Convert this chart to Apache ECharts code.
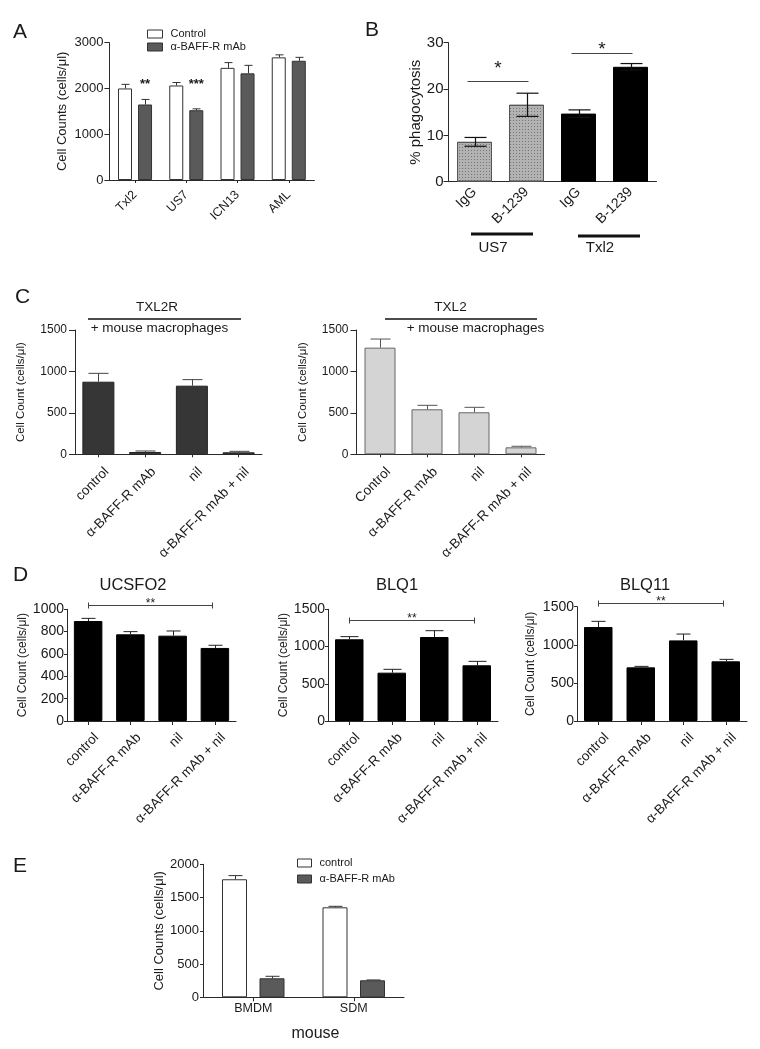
<!DOCTYPE html>
<html>
<head>
<meta charset="utf-8">
<script src="https://cdn.jsdelivr.net/npm/echarts@6.0.0/dist/echarts.min.js"></script>
<style>
html,body{margin:0;padding:0;background:#fff;}
#chart{width:760px;height:1049px;}
</style>
</head>
<body>
<div id="chart"></div>
<script>
// ---------------- DATA ----------------
// Panel A
const catA = ['Txl2', 'US7', 'ICN13', 'AML'];
const ctrlA = [2000, 2065, 2450, 2680];
const ctrlAErr = [90, 65, 115, 55];
const mabA = [1650, 1525, 2330, 2605];
const mabAErr = [110, 30, 175, 75];
const starsA = [{cat: 0, y: 2163, text: '**'}, {cat: 1, y: 2163, text: '***'}];
const yMaxA = 3000, yStepA = 1000;

// Panel B
const catB = ['IgG', 'B-1239', 'IgG', 'B-1239'];
const groupB = ['US7', 'US7', 'Txl2', 'Txl2'];
const valB = [8.6, 16.6, 14.7, 24.8];
const errB = [0.95, 2.5, 0.8, 0.7];
const sigB = [{from: 0, to: 1, y: 21.7, starY: 25.4}, {from: 2, to: 3, y: 27.8, starY: 29.5}];
const yMaxB = 30, yStepB = 10;

// Panel C
const catC1 = ['control', 'α-BAFF-R mAb', 'nil', 'α-BAFF-R mAb + nil'];
const valC1 = [876, 28, 828, 24];
const errC1 = [101, 12, 73, 12];
const catC2 = ['Control', 'α-BAFF-R mAb', 'nil', 'α-BAFF-R mAb + nil'];
const valC2 = [1287, 543, 507, 84];
const errC2 = [104, 48, 60, 13];
const yMaxC = 1500, yStepC = 500;

// Panel D
const catD = ['control', 'α-BAFF-R mAb', 'nil', 'α-BAFF-R mAb + nil'];
const valD1 = [895, 776, 764, 654];
const errD1 = [24, 24, 42, 24];
const valD2 = [1097, 649, 1128, 748];
const errD2 = [36, 45, 85, 53];
const valD3 = [1233, 704, 1058, 783];
const errD3 = [75, 13, 83, 26];
const sigD1 = {from: 0, to: 3, y: 1036};
const sigD2 = {from: 0, to: 3, y: 1353};
const sigD3 = {from: 0, to: 3, y: 1553};
const yMaxD1 = 1000, yStepD1 = 200;
const yMaxD23 = 1500, yStepD23 = 500;

// Panel E
const catE = ['BMDM', 'SDM'];
const ctrlE = [1775, 1353];
const ctrlEErr = [55, 15];
const mabE = [286, 256];
const mabEErr = [30, 5];
const yMaxE = 2000, yStepE = 500;

// ---------------- STYLE HELPERS ----------------
const FONT = '"Liberation Sans", Arial, Helvetica, sans-serif';
const TXT = '#1a1a1a';
const AX = '#2a2a2a';

const grids = [
  {left: 109.4, top: 42.7, width: 205, height: 137.3},   // A
  {left: 448.5, top: 42.7, width: 208, height: 139},     // B
  {left: 75, top: 330, width: 187, height: 124.3},       // C1
  {left: 356.5, top: 330, width: 188, height: 124.3},    // C2
  {left: 67, top: 609.3, width: 169, height: 111.7},     // D1
  {left: 328, top: 609.3, width: 170, height: 111.7},    // D2
  {left: 577, top: 606.7, width: 170, height: 114.3},    // D3
  {left: 203, top: 864.3, width: 201, height: 133}       // E
];

function xAx(gi, cats, o) {
  const lab = {interval: 0, rotate: o.rotate || 0, fontSize: o.fs, fontFamily: FONT, color: TXT, margin: o.margin};
  if (o.lh) { lab.verticalAlign = 'top'; lab.lineHeight = o.lh; }
  return {
    type: 'category', gridIndex: gi, data: cats,
    axisLine: {lineStyle: {color: AX, width: 1}},
    axisTick: {show: o.tick > 0, alignWithLabel: true, length: o.tick || 4, lineStyle: {color: AX}},
    axisLabel: lab
  };
}
function yAx(gi, max, interval, name, o) {
  return {
    type: 'value', gridIndex: gi, min: 0, max: max, interval: interval,
    name: name, nameLocation: 'middle', nameGap: o.gap,
    nameTextStyle: {fontSize: o.nfs, fontFamily: FONT, color: TXT},
    splitLine: {show: false},
    axisLine: {show: true, lineStyle: {color: AX, width: 1}},
    axisTick: {show: true, length: o.tick, lineStyle: {color: AX}},
    axisLabel: {fontSize: o.fs, fontFamily: FONT, color: TXT, margin: o.margin,
      formatter: function (v) { return String(v); }}
  };
}
function barS(gi, name, vals, style, width, gap) {
  const s = {
    type: 'bar', name: name, xAxisIndex: gi, yAxisIndex: gi, data: vals,
    barWidth: width, itemStyle: style, silent: true, z: 2
  };
  if (gap !== undefined) s.barGap = gap;
  return s;
}
function errS(gi, vals, errs, dx, capHalf, color, lw, both) {
  return {
    type: 'custom', xAxisIndex: gi, yAxisIndex: gi, z: 5, silent: true,
    data: vals.map((v, i) => [i, v, errs[i]]),
    encode: {x: 0, y: 1},
    renderItem: function (params, api) {
      const i = api.value(0), v = api.value(1), e = api.value(2);
      const p = api.coord([i, v]);
      const t = api.coord([i, v + e]);
      const b = api.coord([i, v - e]);
      const x = Math.round(p[0] + dx) + 0.5;
      const st = {stroke: color, lineWidth: lw};
      const ch = [
        {type: 'line', shape: {x1: x, y1: both ? b[1] : p[1], x2: x, y2: t[1]}, style: st},
        {type: 'line', shape: {x1: x - capHalf, y1: t[1], x2: x + capHalf, y2: t[1]}, style: st}
      ];
      if (both) ch.push({type: 'line', shape: {x1: x - capHalf, y1: b[1], x2: x + capHalf, y2: b[1]}, style: st});
      return {type: 'group', children: ch};
    }
  };
}
function starText(x, yCenter, text, fs, bold) {
  return {type: 'text', x: x, y: yCenter + 0.23 * fs,
    style: {text: text, fontSize: fs, fontFamily: FONT, fontWeight: bold ? 'bold' : 'normal',
      fill: TXT, align: 'center', verticalAlign: 'middle'}};
}
// stars over bars (panel A)
function starsS(gi, stars, dx, fs) {
  return {
    type: 'custom', xAxisIndex: gi, yAxisIndex: gi, z: 6, silent: true,
    data: stars.map(s => [s.cat, s.y]),
    encode: {x: 0, y: 1},
    renderItem: function (params, api) {
      const p = api.coord([api.value(0), api.value(1)]);
      return starText(p[0] + dx, p[1], stars[params.dataIndex].text, fs, true);
    }
  };
}
// significance bracket for panel B (plain line + star)
function sigBS(gi, sigs) {
  return {
    type: 'custom', xAxisIndex: gi, yAxisIndex: gi, z: 6, silent: true, clip: false,
    data: sigs.map(s => [s.from, s.y]),
    encode: {x: 0, y: 1},
    renderItem: function (params, api) {
      const s = sigs[params.dataIndex];
      const a = api.coord([s.from, s.y]);
      const b = api.coord([s.to, s.y]);
      const st = api.coord([s.to, s.starY]);
      const y = Math.round(a[1]) + 0.5;
      return {type: 'group', children: [
        {type: 'line', shape: {x1: a[0] - 7, y1: y, x2: b[0] + 2, y2: y}, style: {stroke: '#444', lineWidth: 1}},
        starText((a[0] - 7 + b[0] + 2) / 2, st[1], '*', 19, false)
      ]};
    }
  };
}
// significance bracket for panel D (|----| with ** above)
function sigDS(gi, sig) {
  return {
    type: 'custom', xAxisIndex: gi, yAxisIndex: gi, z: 6, silent: true, clip: false,
    data: [[sig.from, sig.y]],
    encode: {x: 0, y: 1},
    renderItem: function (params, api) {
      const a = api.coord([sig.from, sig.y]);
      const b = api.coord([sig.to, sig.y]);
      const y = Math.round(a[1]) + 0.5;
      const x1 = Math.round(a[0]) + 0.5, x2 = Math.round(b[0]) - 2.5;
      const st = {stroke: '#444', lineWidth: 1};
      return {type: 'group', children: [
        {type: 'line', shape: {x1: x1, y1: y, x2: x2, y2: y}, style: st},
        {type: 'line', shape: {x1: x1, y1: y - 3, x2: x1, y2: y + 3}, style: st},
        {type: 'line', shape: {x1: x2, y1: y - 3, x2: x2, y2: y + 3}, style: st},
        starText((x1 + x2) / 2, y - 5, '**', 12, false)
      ]};
    }
  };
}

// graphic helpers
function gtxt(text, x, y, fs, align) {
  return {type: 'text', x: x, y: y, silent: true,
    style: {text: text, fontSize: fs, fontFamily: FONT, fill: TXT, align: align || 'center', verticalAlign: 'middle'}};
}
function gline(x1, y1, x2, y2, w) {
  return {type: 'line', silent: true, shape: {x1: x1, y1: y1, x2: x2, y2: y2}, style: {stroke: '#111', lineWidth: w}};
}

// ---------------- STYLES ----------------
const whiteBar = {color: '#ffffff', borderColor: '#333', borderWidth: 1};
const darkBar = {color: '#5a5a5a', borderColor: '#333', borderWidth: 1};
const dottedGray = {color: '#b2b2b2', borderColor: '#555', borderWidth: 1,
  decal: {symbol: 'rect', symbolSize: 1, color: 'rgba(70,70,70,0.55)', dashArrayX: [1, 2], dashArrayY: [1, 2]}};
const blackBar = {color: '#000', borderColor: '#000', borderWidth: 1};
const groupStyle = {US7: dottedGray, Txl2: blackBar};

const xAxes = [
  xAx(0, catA, {fs: 12.5, rotate: 45, margin: 13, tick: 3}),
  xAx(1, catB, {fs: 14, rotate: 45, margin: 8, tick: 0}),
  xAx(2, catC1, {fs: 13.5, rotate: 45, margin: 7, lh: 24, tick: 3}),
  xAx(3, catC2, {fs: 13.5, rotate: 45, margin: 7, lh: 24, tick: 3}),
  xAx(4, catD, {fs: 13.5, rotate: 45, margin: 6, lh: 24, tick: 4}),
  xAx(5, catD, {fs: 13.5, rotate: 45, margin: 6, lh: 24, tick: 4}),
  xAx(6, catD, {fs: 13.5, rotate: 45, margin: 6, lh: 24, tick: 4}),
  xAx(7, catE, {fs: 12.5, rotate: 0, margin: 5, tick: 4})
];
const yAxes = [
  yAx(0, yMaxA, yStepA, 'Cell Counts (cells/μl)', {gap: 40, nfs: 13, fs: 13, tick: 5, margin: 6}),
  yAx(1, yMaxB, yStepB, '% phagocytosis', {gap: 25, nfs: 15, fs: 15, tick: 5, margin: 5}),
  yAx(2, yMaxC, yStepC, 'Cell Count (cells/μl)', {gap: 48, nfs: 11.5, fs: 12, tick: 6, margin: 8}),
  yAx(3, yMaxC, yStepC, 'Cell Count (cells/μl)', {gap: 48, nfs: 11.5, fs: 12, tick: 6, margin: 8}),
  yAx(4, yMaxD1, yStepD1, 'Cell Count (cells/μl)', {gap: 37, nfs: 12, fs: 14, tick: 3, margin: 3}),
  yAx(5, yMaxD23, yStepD23, 'Cell Count (cells/μl)', {gap: 37, nfs: 12, fs: 14, tick: 3, margin: 3}),
  yAx(6, yMaxD23, yStepD23, 'Cell Count (cells/μl)', {gap: 40, nfs: 12, fs: 14, tick: 3, margin: 3}),
  yAx(7, yMaxE, yStepE, 'Cell Counts (cells/μl)', {gap: 36, nfs: 13, fs: 13, tick: 3, margin: 4})
];

const series = [
  // A
  barS(0, 'Control', ctrlA, whiteBar, 14, '43%'),
  barS(0, 'α-BAFF-R mAb', mabA, darkBar, 14, '43%'),
  errS(0, ctrlA, ctrlAErr, -10, 4, '#333', 1, false),
  errS(0, mabA, mabAErr, 10, 4, '#333', 1, false),
  starsS(0, starsA, 10, 13),
  // B
  barS(1, 'B bars', valB.map((v, i) => ({value: v, itemStyle: groupStyle[groupB[i]]})), {}, 35),
  errS(1, valB, errB, 0, 11, '#111', 1.2, true),
  sigBS(1, sigB),
  // C
  barS(2, 'C1 bars', valC1, {color: '#363636', borderColor: '#222', borderWidth: 1}, 32),
  errS(2, valC1, errC1, 0, 10, '#444', 1, false),
  barS(3, 'C2 bars', valC2, {color: '#d4d4d4', borderColor: '#666', borderWidth: 1}, 31),
  errS(3, valC2, errC2, 0, 10, '#555', 1, false),
  // D
  barS(4, 'D1 bars', valD1, blackBar, 28.5),
  errS(4, valD1, errD1, 0, 7, '#222', 1, false),
  sigDS(4, sigD1),
  barS(5, 'D2 bars', valD2, blackBar, 28.5),
  errS(5, valD2, errD2, 0, 9, '#222', 1, false),
  sigDS(5, sigD2),
  barS(6, 'D3 bars', valD3, blackBar, 28.5),
  errS(6, valD3, errD3, 0, 7, '#222', 1, false),
  sigDS(6, sigD3),
  // E
  barS(7, 'control', ctrlE, whiteBar, 25, '50%'),
  barS(7, 'α-BAFF-R mAb', mabE, darkBar, 25, '50%'),
  errS(7, ctrlE, ctrlEErr, -18.75, 7, '#333', 1, false),
  errS(7, mabE, mabEErr, 18.75, 7, '#333', 1, false)
];

const legendText = {fontSize: 11, fontFamily: FONT, color: TXT, lineHeight: 13, padding: [0, 0, 0, 3]};
const legends = [
  {left: 147, top: 27.5, orient: 'vertical', padding: 0, itemWidth: 15, itemHeight: 8, itemGap: 0,
    icon: 'rect', selectedMode: false, textStyle: legendText,
    data: [{name: 'Control', itemStyle: whiteBar}, {name: 'α-BAFF-R mAb', itemStyle: darkBar}]},
  {left: 297, top: 856.5, orient: 'vertical', padding: 0, itemWidth: 14, itemHeight: 8, itemGap: 3,
    icon: 'rect', selectedMode: false, textStyle: legendText,
    data: [{name: 'control', itemStyle: whiteBar}, {name: 'α-BAFF-R mAb', itemStyle: darkBar}]}
];

const graphics = [
  gtxt('A', 13, 32.5, 21, 'left'),
  gtxt('B', 365, 30.5, 21, 'left'),
  gtxt('C', 15, 297.5, 21, 'left'),
  gtxt('D', 13, 575, 21, 'left'),
  gtxt('E', 13, 866.5, 21, 'left'),
  gtxt('TXL2R', 157, 307.5, 13.5),
  gline(88, 319, 241, 319, 1.5),
  gtxt('+ mouse macrophages', 159.5, 328.5, 13.5),
  gtxt('TXL2', 450.5, 307.5, 13.5),
  gline(385, 319, 537, 319, 1.5),
  gtxt('+ mouse macrophages', 475.5, 328.5, 13.5),
  gtxt('UCSFO2', 133, 585, 16.5),
  gtxt('BLQ1', 397, 585, 16.5),
  gtxt('BLQ11', 645, 585, 16.5),
  gline(471, 234, 533, 234, 3),
  gtxt('US7', 493, 248, 15),
  gline(578, 236, 640, 236, 3),
  gtxt('Txl2', 600, 248, 15),
  gtxt('mouse', 315.5, 1034, 16)
];

const chart = echarts.init(document.getElementById('chart'), null, {renderer: 'canvas'});
chart.setOption({
  animation: false,
  backgroundColor: '#ffffff',
  textStyle: {fontFamily: FONT},
  grid: grids,
  xAxis: xAxes,
  yAxis: yAxes,
  legend: legends,
  series: series,
  graphic: graphics
});
</script>
</body>
</html>
